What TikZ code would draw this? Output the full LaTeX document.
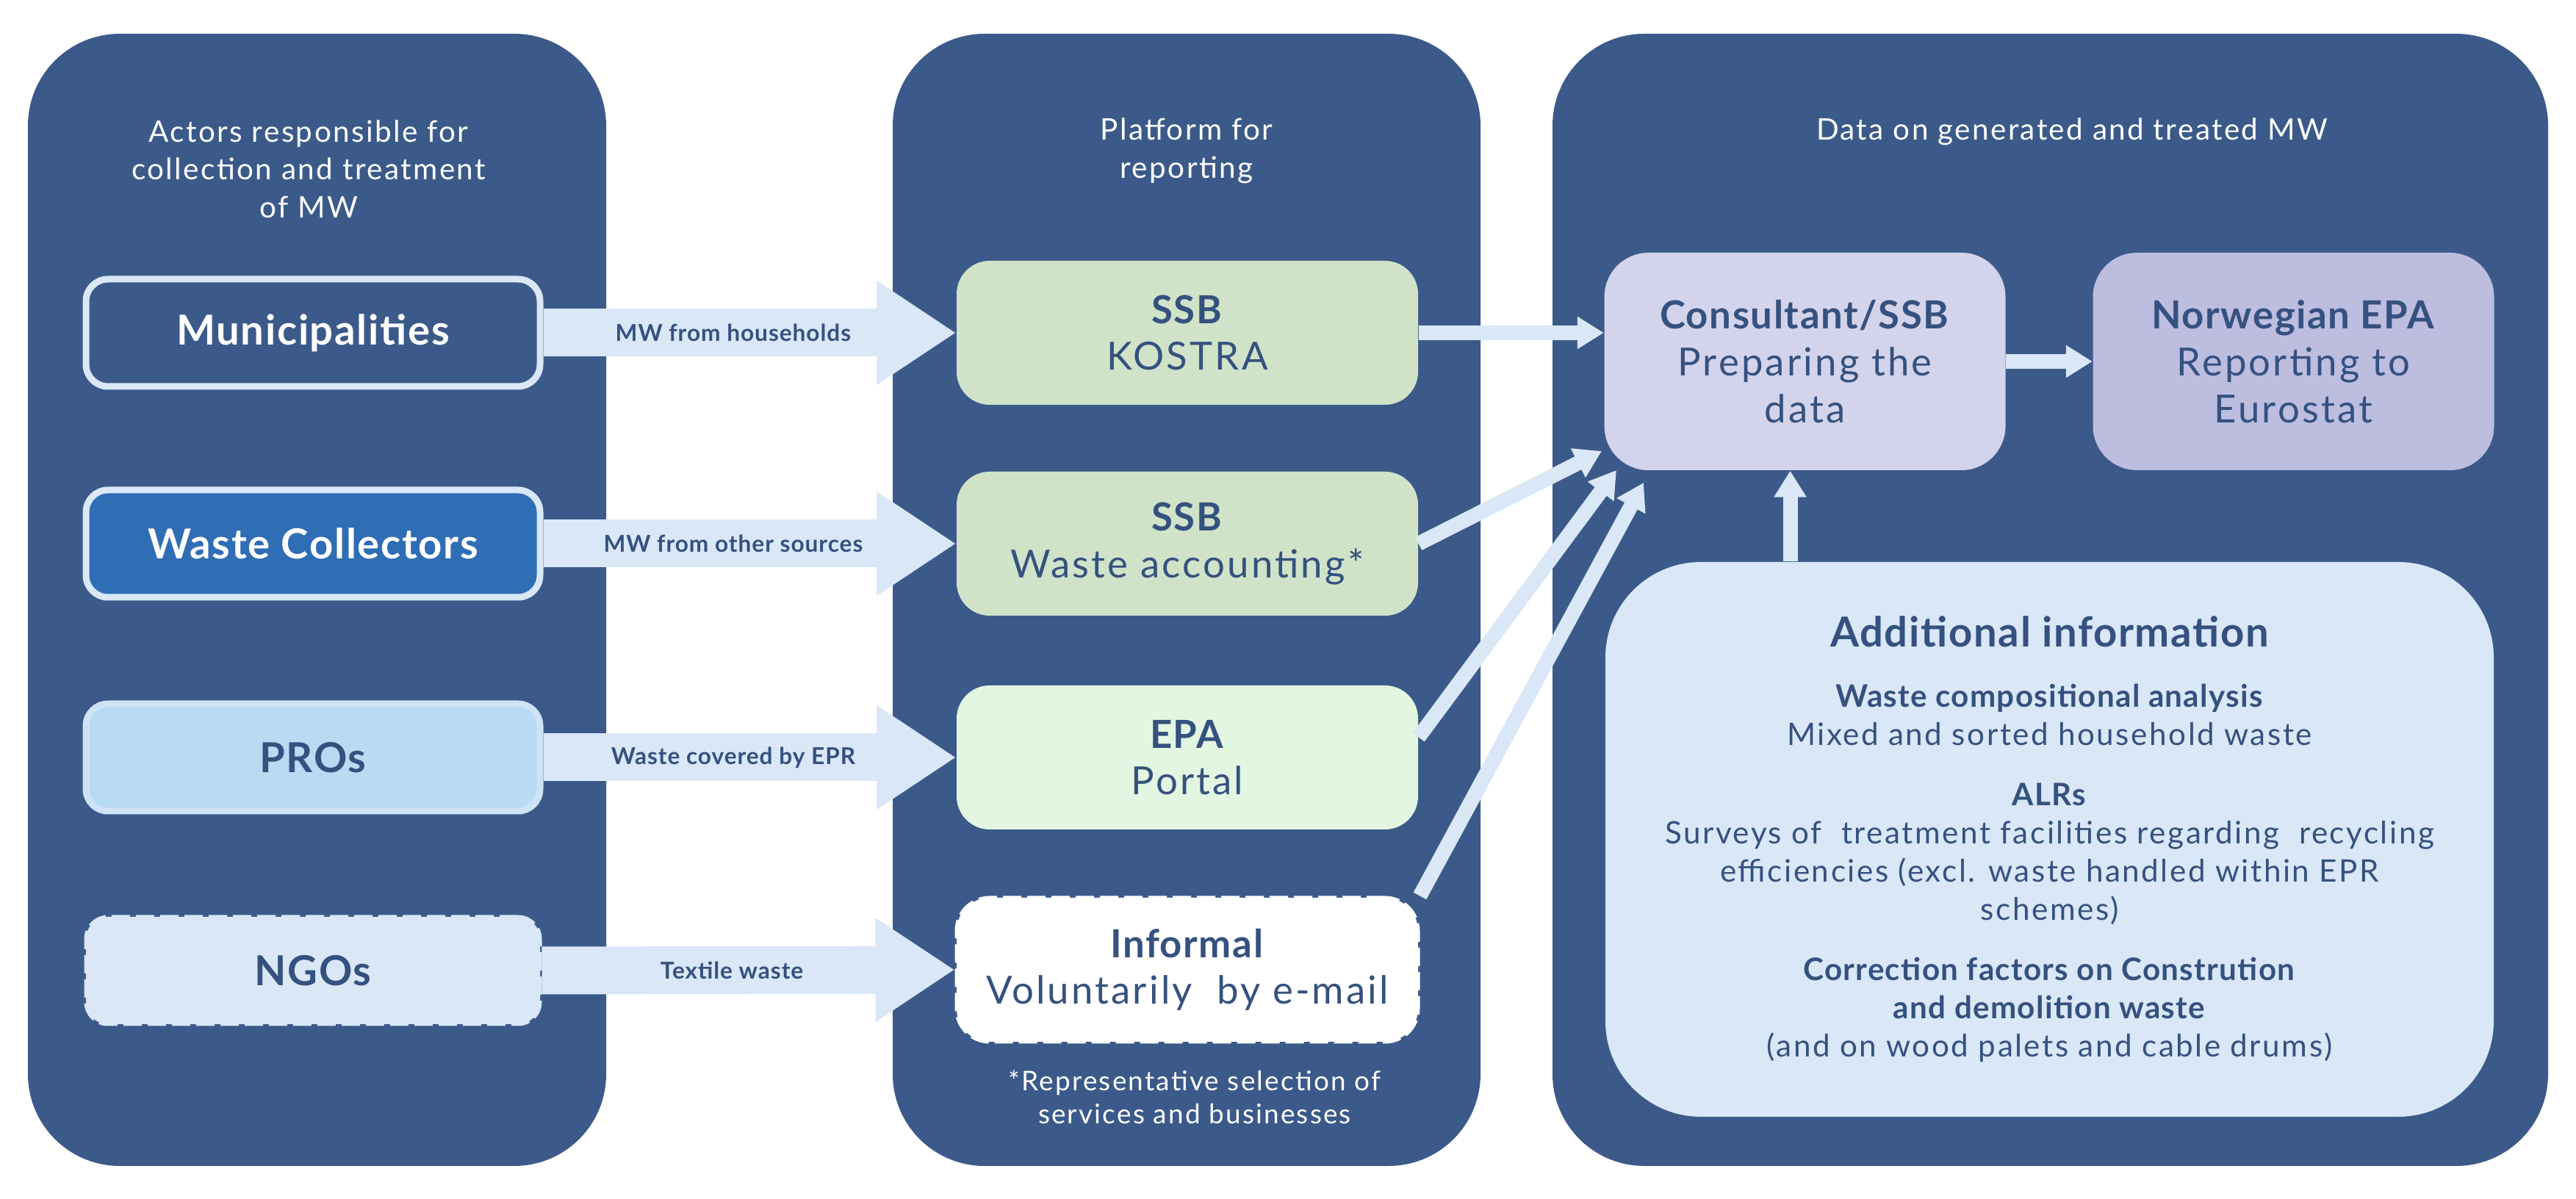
\documentclass[tikz,border=0pt]{standalone}
\usepackage{fontspec}
\setmainfont{Lato}[UprightFeatures={LetterSpace=6}, BoldFeatures={LetterSpace=3}]
\usepackage{tikz}
\usetikzlibrary{arrows.meta, positioning, calc}
\definecolor{panelblue}{HTML}{3B5A8A}
\definecolor{textblue}{HTML}{35517F}
\definecolor{flowblue}{HTML}{D9E7F7}
\definecolor{collectblue}{HTML}{2F6DB5}
\definecolor{problue}{HTML}{B9DAF3}
\definecolor{ssbgreen}{HTML}{D0E3C8}
\definecolor{epagreen}{HTML}{E3F6E1}
\definecolor{consultlilac}{HTML}{D3D4EB}
\definecolor{norlilac}{HTML}{BDBDE0}
\newcommand{\fsz}[2]{\fontsize{#1}{#2}\selectfont}

\begin{document}
\begin{tikzpicture}[
  panel/.style={fill=panelblue, rounded corners=1.25cm, inner sep=0pt, minimum height=15.41cm},
  panelhead/.style={text=white, align=center, font=\fsz{11.5}{14.7}},
  actorbox/.style={rounded corners=0.3cm, line width=0.09cm, minimum width=6.18cm,
                   minimum height=1.46cm, font=\bfseries\fsz{16}{19}},
  platformbox/.style={rounded corners=0.45cm, minimum width=6.28cm, minimum height=1.96cm,
                      align=center, text=textblue, font=\fsz{15}{18}},
  databox/.style={rounded corners=0.6cm, minimum width=5.46cm, minimum height=2.96cm,
                  align=center, text=textblue, font=\fsz{15}{18.2}},
  dashedge/.style={line width=0.05cm, dash pattern=on 0.25cm off 0.08cm},
  bigflow/.style={draw=flowblue, line width=0.65cm, -{Triangle[width=1.34cm,length=1.08cm]}},
  flow/.style={draw=flowblue, line width=0.2cm, -{Triangle[width=0.42cm,length=0.36cm]}},
  flowlabel/.style={text=textblue, font=\bfseries\fsz{9}{11}},
]
\useasboundingbox (0,0) rectangle (35.06,-16.32);

\node[panel, minimum width=7.87cm] (actorpanel) at (4.315,-8.165) {};
\node[panel, minimum width=8.00cm] (platformpanel) at (16.15,-8.165) {};
\node[panel, minimum width=13.55cm] (datapanel) at (27.905,-8.165) {};

\node[panelhead] (actorhead) at (4.2,-2.30) {Actors responsible for\\collection and treatment\\of MW};
\node[panelhead] (platformhead) at (16.15,-2.05) {Platform for\\reporting};
\node[panelhead] (datahead) at (28.2,-1.79) {Data on generated and treated MW};

\node[actorbox, draw=flowblue, fill=panelblue, text=white] (muni) at (4.26,-4.53) {Municipalities};
\node[actorbox, draw=flowblue, fill=collectblue, text=white] (collectors) at (4.26,-7.40) {Waste Collectors};
\node[actorbox, draw=flowblue!70!problue, fill=problue, text=textblue] (pros) at (4.26,-10.31) {PROs};
\node[actorbox, dashedge, draw=flowblue, fill=flowblue, text=textblue] (ngos) at (4.26,-13.21) {NGOs};

\node[platformbox, fill=ssbgreen] (kostra) at (16.16,-4.53) {\textbf{SSB}\\KOSTRA};
\node[platformbox, fill=ssbgreen] (accounting) at (16.16,-7.40) {\textbf{SSB}\\Waste accounting*};
\node[platformbox, fill=epagreen] (portal) at (16.16,-10.31) {\textbf{EPA}\\Portal};
\node[platformbox, dashedge, draw=white, fill=white] (informal) at (16.16,-13.20)
     {\textbf{Informal}\\Voluntarily\ \ by e-mail};
\node[panelhead, font=\fsz{10.5}{12.8}] (footnote) at (16.26,-14.93)
     {*Representative selection of\\services and businesses};

\node[databox, fill=consultlilac] (consultant) at (24.565,-4.92)
     {\textbf{Consultant/SSB}\\Preparing the\\data};
\node[databox, fill=norlilac] (norepa) at (31.215,-4.92)
     {\textbf{Norwegian EPA}\\Reporting to\\Eurostat};
\node[fill=flowblue, rounded corners=1.3cm, minimum width=12.09cm, minimum height=7.55cm,
      align=center, text=textblue, font=\fsz{12}{14.8}] (addinfo) at (27.895,-11.425)
     {{\bfseries\fsz{16}{19}Additional information}\\[0.3cm]
      \textbf{Waste compositional analysis}\\
      Mixed and sorted household waste\\[0.3cm]
      \textbf{ALRs}\\
      Surveys of\ \ treatment facilities regarding\ \ recycling\\
      efficiencies (excl. waste handled within EPR\\
      schemes)\\[0.3cm]
      \textbf{Correction factors on Constrution}\\
      \textbf{and demolition waste}\\
      (and on wood palets and cable drums)};

\draw[bigflow] (muni.east) -- (kostra.west)
  node[flowlabel, pos=0.46] {MW from households};
\draw[bigflow] (collectors.east) -- (accounting.west)
  node[flowlabel, pos=0.46] {MW from other sources};
\draw[bigflow] (pros.east) -- (portal.west)
  node[flowlabel, pos=0.46] {Waste covered by EPR};
\draw[bigflow] (ngos.east) -- (informal.west)
  node[flowlabel, pos=0.46] {Textile waste};

\coordinate (tipA) at (21.80,-6.14);
\coordinate (tipB) at (22.00,-6.40);
\coordinate (tipC) at (22.37,-6.57);
\draw[flow] (kostra.east) -- (consultant.west |- kostra.east);
\draw[flow] (accounting.east) -- (tipA);
\draw[flow] (portal.5) -- (tipB);
\draw[flow] (informal.north east) -- (tipC);
\draw[flow] ([xshift=-0.2cm]consultant.south |- addinfo.north) -- ([xshift=-0.2cm]consultant.south);
\draw[flow] (consultant.east) -- (norepa.west);
\end{tikzpicture}
\end{document}
